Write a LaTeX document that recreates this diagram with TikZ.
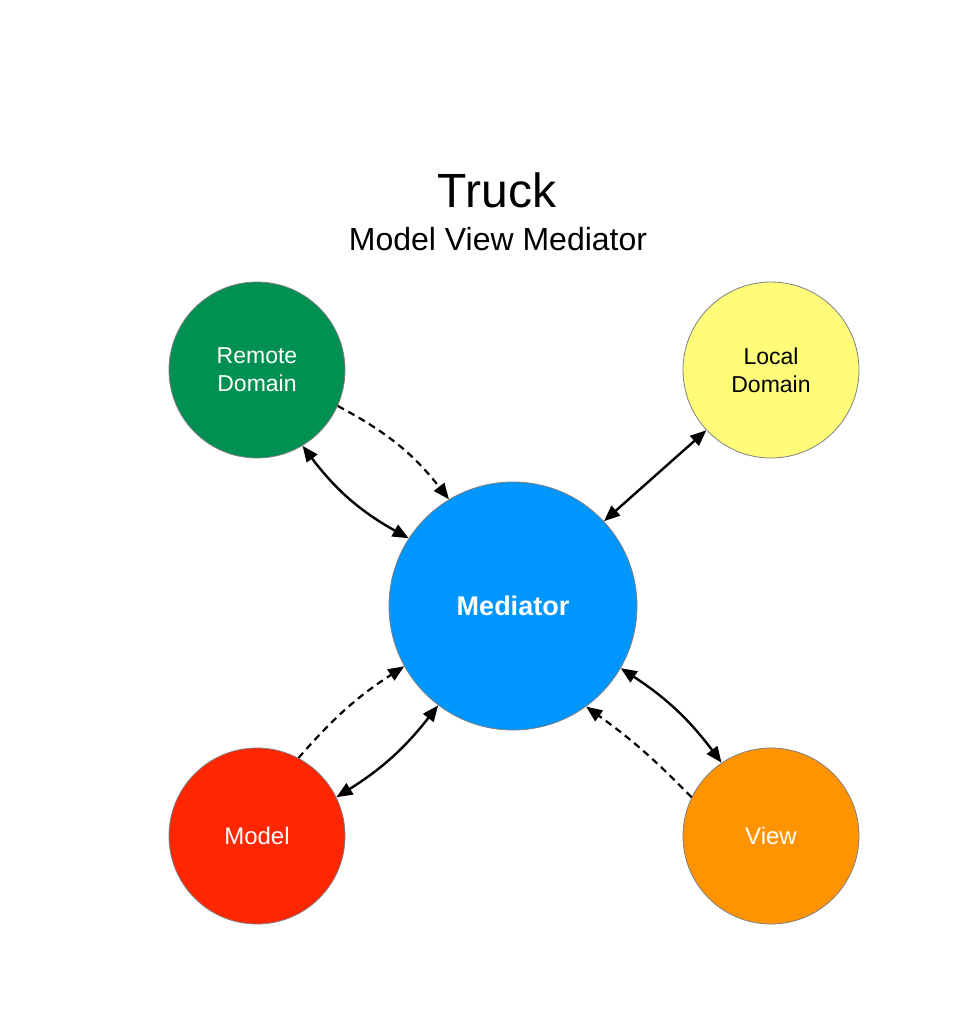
\documentclass[tikz,border=0pt]{standalone}
\usepackage{fontspec}
\setmainfont{Liberation Sans}
\usetikzlibrary{arrows.meta}

\definecolor{moss}{HTML}{009051}
\definecolor{banana}{HTML}{FFFC79}
\definecolor{aqua}{HTML}{0096FF}
\definecolor{maraschino}{HTML}{FF2600}
\definecolor{tangerine}{HTML}{FF9300}

\begin{document}
\begin{tikzpicture}[x=1pt, y=-1pt,
  blob/.style={circle, draw=gray, line width=0.8pt, minimum size=176pt, inner sep=0pt,
    align=center, font=\fontsize{23}{28}\selectfont},
  tip/.tip={Triangle[length=16pt, width=13pt]},
  both/.style={line width=2.4pt, tip-tip},
  oneway/.style={line width=2.2pt, dash pattern=on 7pt off 5pt, -tip}]

\useasboundingbox (0,0) rectangle (956,1021);

\node (title) at ( 497, 190) {\fontsize{48}{50}\selectfont Truck};
\node (subtitle) at ( 498, 239) {\fontsize{32}{34}\selectfont Model View Mediator};

\node[blob, fill=moss, text=white] (remote) at ( 257, 370) {Remote\\Domain};
\node[blob, fill=banana] (local) at ( 771, 370) {Local\\Domain};
\node[blob, fill=aqua, text=white, minimum size=248pt, font=\fontsize{27}{30}\selectfont\bfseries] (mediator) at ( 513, 606) {Mediator};
\node[blob, fill=maraschino, text=white, font=\fontsize{24}{28}\selectfont] (model) at ( 257, 836) {Model};
\node[blob, fill=tangerine, text=white, font=\fontsize{24}{28}\selectfont] (view) at ( 771, 836) {View};

% remote domain
\draw[both] (remote.-59) to[bend right=12] (mediator.147);
\draw[oneway] (remote.-24) to[bend left=12] (mediator.121);

% local domain
\draw[both] (local.-137) -- (mediator.43);

% model
\draw[oneway] (model.62) to[bend left=8] (mediator.-151);
\draw[both] (mediator.-127) to[bend left=10] (model.26);

% view
\draw[both] (mediator.-30) to[bend left=10] (view.124);
\draw[oneway] (view.154) to[bend right=5] (mediator.-54);

\end{tikzpicture}
\end{document}
